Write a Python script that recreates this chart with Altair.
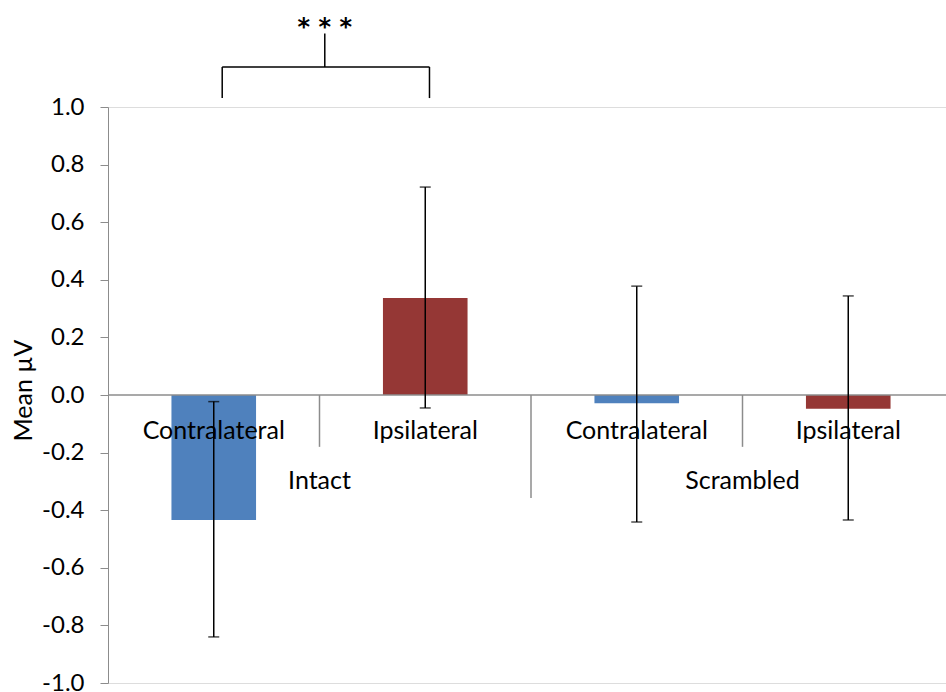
import altair as alt
import pandas as pd

# Mean amplitude per condition with error-bar bounds
groups = ["Intact", "Intact", "Scrambled", "Scrambled"]
sides = ["Contralateral", "Ipsilateral", "Contralateral", "Ipsilateral"]
means = [-0.434, 0.337, -0.029, -0.048]
err_lo = [-0.840, -0.045, -0.441, -0.434]
err_hi = [-0.023, 0.722, 0.378, 0.344]
colors = ["#4F81BD", "#953735", "#4F81BD", "#953735"]
y_ticks = [-1.0, -0.8, -0.6, -0.4, -0.2, 0.0, 0.2, 0.4, 0.6, 0.8, 1.0]

FONT = "Lato"
AXIS_GRAY = "#8c8c8c"

n = len(sides)
df = pd.DataFrame({
    "group": groups, "side": sides, "mean": means,
    "lo": err_lo, "hi": err_hi, "color": colors,
    "pos": [i + 0.5 for i in range(n)],
})
df["left"] = df["pos"] - 0.2
df["right"] = df["pos"] + 0.2

grp = df.groupby("group", sort=False)["pos"].mean().reset_index()
seps = pd.DataFrame({"pos": [1.0, 2.0, 3.0], "major": [False, True, False]})

x_max = 838 / 211.5
xs = alt.Scale(domain=[0, x_max], nice=False, zero=False)
ys = alt.Scale(domain=[-1, 1], nice=False, zero=False)

base = alt.Chart(df)

bars = base.mark_rect().encode(
    x=alt.X("left:Q", scale=xs, axis=None),
    x2="right:Q",
    y=alt.Y("mean:Q", scale=ys, axis=alt.Axis(
        values=y_ticks, title="Mean µV", grid=False,
        domainColor=AXIS_GRAY, tickColor=AXIS_GRAY, tickSize=8,
        labelPadding=16, labelFontSize=24, labelFont=FONT, labelColor="black",
        labelExpr="(datum.value < -0.001 ? '-' : '') + format(abs(datum.value), '.1f')",
        titleFont=FONT, titleFontSize=25, titleFontWeight="normal", titleColor="black",
        titleX=-85, titleY=283, titleAngle=270, titleAlign="center", titleBaseline="middle",
    )),
    y2=alt.datum(0),
    color=alt.Color("color:N", scale=None),
)

zero_line = alt.Chart(pd.DataFrame({"a": [0.0], "b": [x_max]})).mark_rule(
    color=AXIS_GRAY, strokeWidth=1.5
).encode(x=alt.X("a:Q", scale=xs), x2="b:Q", y=alt.datum(0, scale=ys))

minor_sep = alt.Chart(seps).transform_filter("!datum.major").mark_rule(
    color=AXIS_GRAY, strokeWidth=1.5
).encode(x=alt.X("pos:Q", scale=xs), y=alt.datum(0), y2=alt.datum(-0.18))

major_sep = alt.Chart(seps).transform_filter("datum.major").mark_rule(
    color=AXIS_GRAY, strokeWidth=1.5
).encode(x=alt.X("pos:Q", scale=xs), y=alt.datum(0), y2=alt.datum(-0.358))

err = base.mark_rule(color="black", strokeWidth=1.5).encode(
    x=alt.X("pos:Q", scale=xs), y=alt.Y("lo:Q", scale=ys), y2="hi:Q"
)
cap_lo = base.mark_tick(color="black", orient="horizontal", size=11, thickness=1.5).encode(
    x=alt.X("pos:Q", scale=xs), y=alt.Y("lo:Q", scale=ys)
)
cap_hi = base.mark_tick(color="black", orient="horizontal", size=11, thickness=1.5).encode(
    x=alt.X("pos:Q", scale=xs), y=alt.Y("hi:Q", scale=ys)
)

side_labels = base.mark_text(font=FONT, fontSize=25, color="black", baseline="middle", dy=36).encode(
    x=alt.X("pos:Q", scale=xs), y=alt.datum(0, scale=ys), text="side:N"
)
group_labels = alt.Chart(grp).mark_text(font=FONT, fontSize=25, color="black", baseline="middle", dy=86).encode(
    x=alt.X("pos:Q", scale=xs), y=alt.datum(0, scale=ys), text="group:N"
)

# significance bracket between the two Intact bars
bracket = pd.DataFrame({
    "x": [0.54, 1.52, 0.54, 1.025],
    "x2": [0.54, 1.52, 1.52, 1.025],
    "y": [1.031, 1.031, 1.139, 1.139],
    "y2": [1.139, 1.139, 1.139, 1.255],
})
bracket_lines = alt.Chart(bracket).mark_rule(color="black", strokeWidth=1.5).encode(
    x=alt.X("x:Q", scale=xs), x2="x2:Q", y=alt.Y("y:Q", scale=ys), y2="y2:Q"
)
stars = alt.Chart(pd.DataFrame({"x": [1.025], "y": [1.255], "t": ["* * *"]})).mark_text(
    font="DejaVu Sans", fontSize=24, fontWeight="bold", color="black", baseline="alphabetic", dy=1
).encode(x=alt.X("x:Q", scale=xs), y=alt.Y("y:Q", scale=ys), text="t:N")

chart = alt.layer(
    bars, zero_line, minor_sep, major_sep, err, cap_lo, cap_hi,
    side_labels, group_labels, bracket_lines, stars,
).properties(
    width=838, height=576,
    autosize=alt.AutoSizeParams(type="none"),
    padding={"left": 108, "top": 107, "right": 0, "bottom": 9},
).configure_view(stroke=None).configure(background="white")

chart.save("out.html", embed_options={"renderer": "svg", "actions": False})
